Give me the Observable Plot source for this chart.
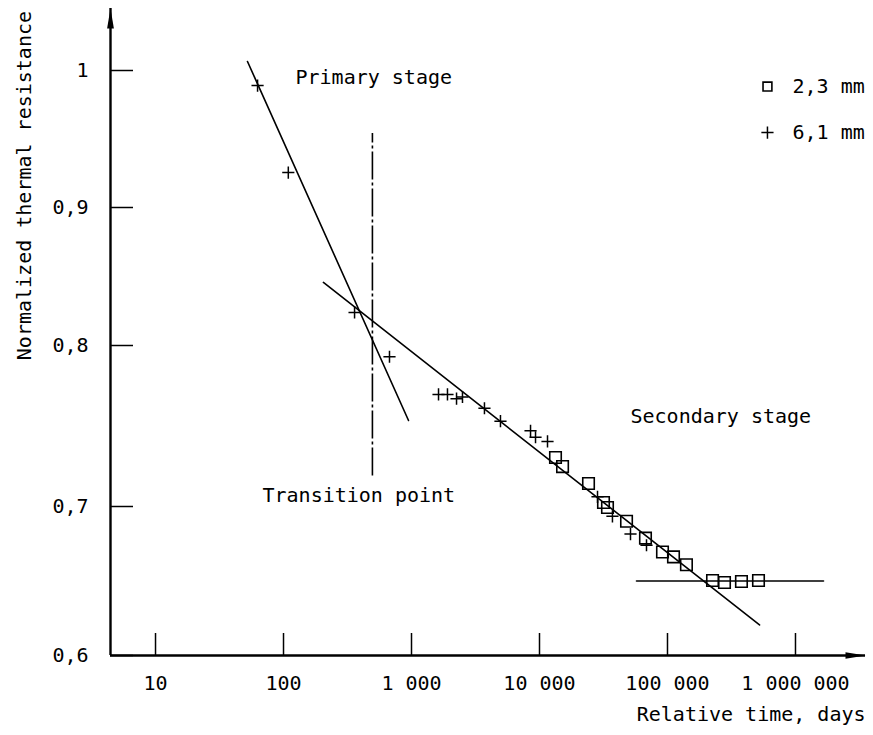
<!DOCTYPE html>
<html><head><meta charset="utf-8">
<script src="https://cdn.jsdelivr.net/npm/d3@7"></script>
<script src="https://cdn.jsdelivr.net/npm/@observablehq/plot@0.6"></script>
<style>body{margin:0;background:#fff}</style>
</head><body><div id="chart"></div>
<script>
// 6,1 mm specimens (+)
const plusTime = [62.7,109,359,673,1626,1910,2248,2502,3715,4955,8511,9310,11550,28400,37150,51400,68550];
const plusRes  = [0.989,0.9255,0.824,0.793,0.7696,0.7696,0.767,0.768,0.761,0.753,0.747,0.743,0.7404,0.706,0.6934,0.6815,0.674];
// 2,3 mm specimens (squares)
const squareTime = [13335,15140,24150,31620,33980,47860,67300,91400,111400,140600,224900,278800,378300,514000];
const squareRes  = [0.7304,0.7248,0.7143,0.7025,0.6993,0.6901,0.6788,0.6695,0.6662,0.6609,0.6503,0.649,0.6497,0.6503];
// fitted lines (end points)
const primaryTime = [52.3, 948];
const primaryRes = [1.0066, 0.7534];
const secondaryTime = [205, 523600];
const secondaryRes = [0.8457, 0.6205];
const plateauTime = [57250, 1656000];
const plateauRes = [0.65, 0.65];
const transitionTime = 495;
const transitionRes = [0.719, 0.954];
// axes
const xDomain = [4.449, 3524000];
const xTicks = [10, 100, 1000, 10000, 100000, 1000000];
const yTicks = [0.6, 0.7, 0.8, 0.9, 1.0];
// the printed y axis is unevenly graduated: tick values and their relative spacing
const yBreaks = [0.6, 0.7, 0.8, 0.9, 1.0, 1.0453];
const yBreakUnits = [0, 149, 310, 448, 585, 647];
const legendLabels = ["2,3 mm", "6,1 mm"];

const plusData = plusTime.map((t, i) => ({t, r: plusRes[i]}));
const squareData = squareTime.map((t, i) => ({t, r: squareRes[i]}));
const toPts = (ts, rs) => ts.map((t, i) => ({t, r: rs[i]}));

const warp = d3.scaleLinear().domain(yBreaks).range(yBreakUnits);

const arrowRight = {draw(ctx) { ctx.moveTo(0, 0); ctx.lineTo(-20, -3.2); ctx.lineTo(-20, 3.2); ctx.closePath(); }};
const arrowUp = {draw(ctx) { ctx.moveTo(0, 0); ctx.lineTo(-3.4, 20); ctx.lineTo(3.4, 20); ctx.closePath(); }};

const fmtX = d => d3.format(",")(d).replace(/,/g, " ");
const fmtY = d => String(d).replace(".", ",");

const chart = Plot.plot({
  width: 873,
  height: 735,
  marginLeft: 110,
  marginRight: 8,
  marginTop: 8,
  marginBottom: 80,
  style: {fontFamily: "DejaVu Sans Mono", fontSize: "20px", color: "black", background: "white"},
  x: {type: "log", domain: xDomain},
  y: {transform: warp, domain: [yBreakUnits[0], yBreakUnits[yBreakUnits.length - 1]]},
  marks: [
    Plot.axisX(xTicks, {tickSize: -22, tickPadding: 42, tickFormat: fmtX, strokeWidth: 1.5, label: null}),
    Plot.axisY(yTicks, {tickSize: -23, tickPadding: 45, tickFormat: fmtY, strokeWidth: 1.5, label: null}),
    Plot.ruleY([yBreaks[0]], {strokeWidth: 2.4}),
    Plot.ruleX([xDomain[0]], {strokeWidth: 2.4}),
    Plot.dot([{t: xDomain[1], r: yBreaks[0]}], {x: "t", y: "r", symbol: arrowRight, fill: "black", stroke: "none"}),
    Plot.dot([{t: xDomain[0], r: yBreaks[yBreaks.length - 1]}], {x: "t", y: "r", symbol: arrowUp, fill: "black", stroke: "none"}),
    Plot.line(toPts(primaryTime, primaryRes), {x: "t", y: "r", strokeWidth: 1.6}),
    Plot.line(toPts(secondaryTime, secondaryRes), {x: "t", y: "r", strokeWidth: 1.6}),
    Plot.line(toPts(plateauTime, plateauRes), {x: "t", y: "r", strokeWidth: 1.6}),
    Plot.ruleX([transitionTime], {y1: transitionRes[0], y2: transitionRes[1], strokeWidth: 1.6, strokeDasharray: "28,3,3,3"}),
    Plot.dot(squareData, {x: "t", y: "r", symbol: "square", r: 6.5, fill: "none", stroke: "black", strokeWidth: 1.6}),
    Plot.dot(plusData, {x: "t", y: "r", symbol: "plus", r: 4, fill: "none", stroke: "black", strokeWidth: 1.5}),
    Plot.text(["Primary stage"], {x: 124, y: 0.995, textAnchor: "start"}),
    Plot.text(["Secondary stage"], {x: 51400, y: 0.756, textAnchor: "start"}),
    Plot.text(["Transition point"], {x: 68.5, y: 0.7068, textAnchor: "start"}),
    Plot.dot([{t: 604000, r: 0.9883}], {x: "t", y: "r", symbol: "square", r: 5, fill: "none", stroke: "black", strokeWidth: 1.6}),
    Plot.dot([{t: 604000, r: 0.9547}], {x: "t", y: "r", symbol: "plus", r: 4, fill: "none", stroke: "black", strokeWidth: 1.5}),
    Plot.text([{t: 948000, r: 0.9883, l: legendLabels[0]}, {t: 948000, r: 0.9547, l: legendLabels[1]}], {x: "t", y: "r", text: "l", textAnchor: "start"}),
    Plot.text(["Normalized thermal resistance"], {x: xDomain[0], y: 0.916, dx: -86, rotate: -90, textAnchor: "middle"}),
    Plot.text(["Relative time, days"], {frameAnchor: "bottom-right", dy: 65, textAnchor: "end"})
  ]
});
document.getElementById("chart").appendChild(chart);
</script>
</body></html>
